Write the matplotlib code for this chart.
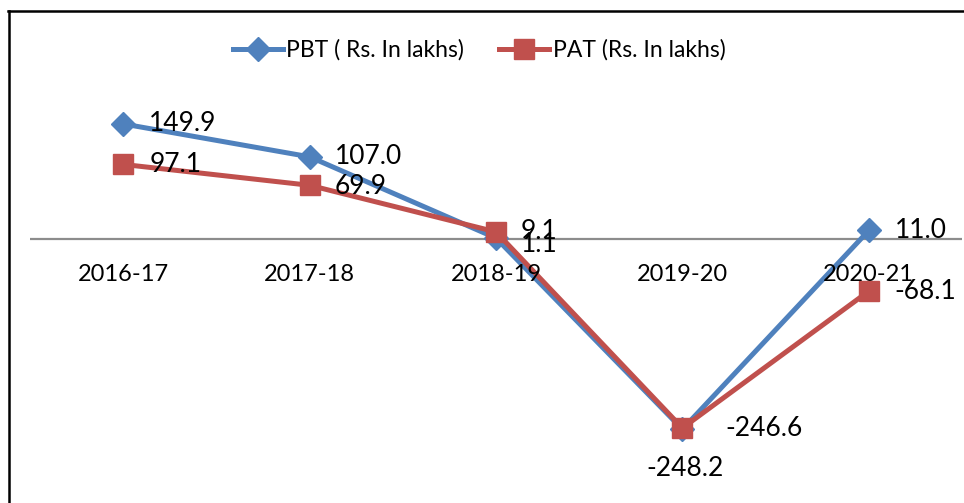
import matplotlib
matplotlib.use("Agg")
import matplotlib.pyplot as plt
from matplotlib.lines import Line2D

plt.rcParams['font.family'] = ['Lato', 'DejaVu Sans']

categories = ["2016-17", "2017-18", "2018-19", "2019-20", "2020-21"]
pbt = [149.9, 107.0, 1.1, -248.2, 11.0]
pat = [97.1, 69.9, 9.1, -246.6, -68.1]
pbt_labels = ["149.9", "107.0", "1.1", "-248.2", "11.0"]
pat_labels = ["97.1", "69.9", "9.1", "-246.6", "-68.1"]

W, H = 964, 503
fig = plt.figure(figsize=(W / 100, H / 100), dpi=100)
ax = fig.add_axes([30 / W, (H - 469) / H, 932 / W, 383.5 / H])
ax.set_xlim(-0.5, 4.5)
ax.set_ylim(-300, 200)
ax.axis('off')

blue = '#4F81BD'
red = '#C0504D'
fs = 17
fs_lab = 19

ax.axhline(0, color='#8C8C8C', lw=1.6, zorder=1)

x = list(range(len(categories)))
l1, = ax.plot(x, pbt, color=blue, lw=3.6, marker='D', markersize=12.5,
              label='PBT ( Rs. In lakhs)', zorder=3)
l2, = ax.plot(x, pat, color=red, lw=3.6, marker='s', markersize=14,
              label='PAT (Rs. In lakhs)', zorder=4)

for i, c in enumerate(categories):
    ax.annotate(c, (i, 0), xytext=(0, -36), textcoords='offset pixels',
                ha='center', va='center', fontsize=fs, zorder=5)

pbt_off = [(26, 0), (25, 0), (25, -6), (3, -39), (26, 0)]
pat_off = [(26, 0), (25, -1), (25, 0), (43, 0), (26, 0)]
pbt_ha = ['left', 'left', 'left', 'center', 'left']
for i in x:
    ax.annotate(pbt_labels[i], (i, pbt[i]), xytext=pbt_off[i], textcoords='offset pixels',
                ha=pbt_ha[i], va='center', fontsize=fs_lab, zorder=6)
    ax.annotate(pat_labels[i], (i, pat[i]), xytext=pat_off[i], textcoords='offset pixels',
                ha='left', va='center', fontsize=fs_lab, zorder=6)

fig.legend(handles=[l1, l2], loc='center', bbox_to_anchor=(479 / W, 1 - 50 / H),
           ncol=2, frameon=False, fontsize=16.5, handlelength=2.2, handletextpad=0.15,
           columnspacing=1.5, borderpad=0)

fig.add_artist(Line2D([8 / W, 1], [1 - 11 / H, 1 - 11 / H], transform=fig.transFigure,
                      color='black', lw=1.8))
fig.add_artist(Line2D([9 / W, 9 / W], [0, 1 - 11 / H], transform=fig.transFigure,
                      color='black', lw=1.8))

fig.savefig('out.png', dpi=100, facecolor='white')
